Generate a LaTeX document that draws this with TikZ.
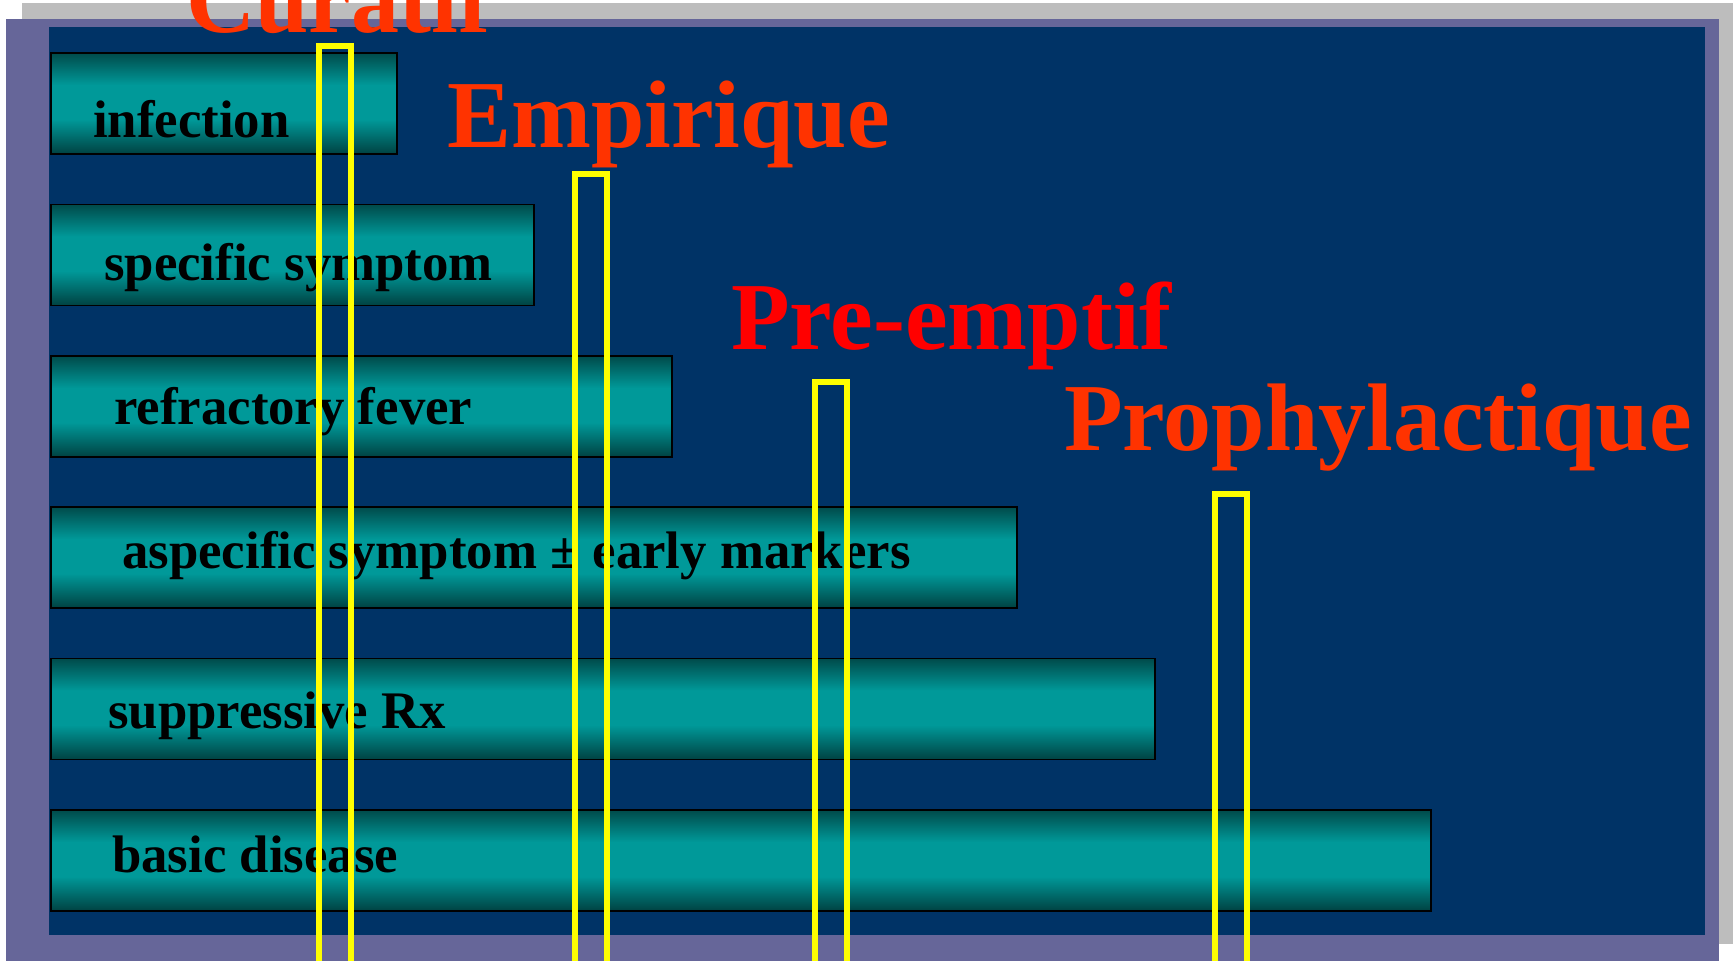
\documentclass[tikz,border=0pt]{standalone}
\usepackage{fontspec}
\setmainfont{Liberation Serif}

\definecolor{shadowgrey}{RGB}{189,189,189}
\definecolor{framepurple}{RGB}{102,102,153}
\definecolor{slidenavy}{RGB}{0,51,102}
\definecolor{bartealtop}{RGB}{0,74,74}
\definecolor{bartealbot}{RGB}{0,66,66}
\definecolor{barteal}{RGB}{0,153,153}
\definecolor{titleorange}{RGB}{255,51,0}
\definecolor{titlered}{RGB}{255,0,0}
\definecolor{markyellow}{RGB}{255,255,0}

% cylinder-like band: dark edges, bright middle
\pgfdeclareverticalshading{barshade}{100bp}{%
  color(0bp)=(bartealbot); color(25bp)=(bartealbot);
  color(42bp)=(barteal); color(59bp)=(barteal);
  color(75bp)=(bartealtop); color(100bp)=(bartealtop)}

\tikzset{
  bar/.style={draw=black, line width=1.5pt, shading=barshade,
    rectangle, anchor=north west, inner sep=0pt, minimum height=101pt},
  bartext/.style={anchor=base west, inner sep=0pt, text=black,
    font=\fontsize{52.8}{58}\selectfont\bfseries},
  title/.style={anchor=base west, inner sep=0pt,
    font=\fontsize{96}{100}\selectfont\bfseries},
  marker/.style={draw=markyellow, line width=6pt, rectangle,
    anchor=north, inner sep=0pt, minimum width=32pt},
}

\begin{document}
\begin{tikzpicture}[x=1pt,y=-1pt]
\useasboundingbox (0,0) rectangle (1735,961);
\clip (0,0) rectangle (1735,961);

% slide frame: shadow, border, background
\fill[white] (0,0) rectangle (1735,961);
\fill[shadowgrey] (22,3) rectangle (1733,944);
\fill[framepurple] (6,19) rectangle (1719,975);
\fill[slidenavy] (49,27) rectangle (1705,935);

% bars
\node[bar, minimum width=346pt]  (infection)  at (50,52) {};
\node[bar, minimum width=483pt]  (specific)   at (50,203.5) {};
\node[bar, minimum width=621pt]  (refractory) at (50,355) {};
\node[bar, minimum width=966pt]  (aspecific)  at (50,506) {};
\node[bar, minimum width=1104pt] (suppressive) at (50,657.5) {};
\node[bar, minimum width=1380pt] (basic)      at (50,809) {};

% bar labels
\node[bartext] (tinfection)  at (93,137) {infection};
\node[bartext] (tspecific)   at (104,280) {specific symptom};
\node[bartext] (trefractory) at (114,424) {refractory fever};
\node[bartext] (taspecific)  at (122,568) {aspecific symptom ± early markers};
\node[bartext] (tsuppressive) at (108,728) {suppressive Rx};
\node[bartext] (tbasic)      at (112,872) {basic disease};

% strategy markers
\node[marker, minimum height=967pt] (mcuratif)   at (335,43) {};
\node[marker, minimum height=839pt] (mempirique) at (591,171) {};
\node[marker, minimum height=631pt] (mpreemptif) at (831,379) {};
\node[marker, minimum height=519pt] (mprophy)    at (1231,491) {};

% strategy titles
\node[title, text=titleorange] (curatif)   at (186,32) {Curatif};
\node[title, text=titleorange] (empirique) at (447,147) {Empirique};
\node[title, text=titlered]    (preemptif) at (731,349) {Pre-emptif};
\node[title, text=titleorange] (prophy)    at (1064,450) {Prophylactique};
\end{tikzpicture}
\end{document}
